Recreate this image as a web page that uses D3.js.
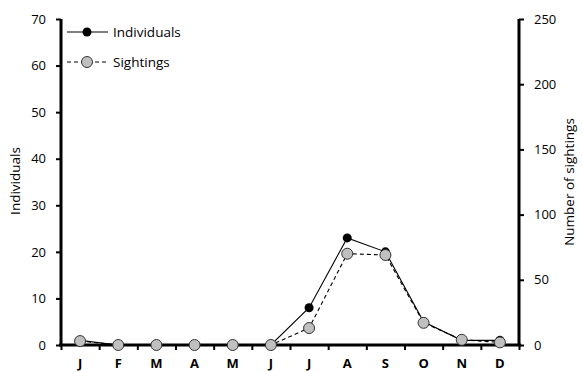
<!DOCTYPE html>
<html><head><meta charset="utf-8">
<script src="https://cdn.jsdelivr.net/npm/d3@7"></script>
<style>body{margin:0;background:#fff}svg{display:block}text{font-family:"Open Sans","DejaVu Sans",sans-serif;fill:#000}</style>
</head><body><svg id="c" width="582" height="372"></svg>
<script>
const months = ["J","F","M","A","M","J","J","A","S","O","N","D"];
const individuals = [1,0,0,0,0,0,8,23,20,5,1,1];
const sightings = [3,0,0,0,0,0,13,70,69,17,4,2];
const leftTicks = [0,10,20,30,40,50,60,70];
const rightTicks = [0,50,100,150,200,250];

const svg = d3.select("#c");
const L = 61, R = 519, T = 19, B = 345;
const idx = d3.range(12);
const x = d3.scaleBand().domain(idx).range([L, R]);
const yL = d3.scaleLinear().domain([0,70]).range([B, T]);
const yR = d3.scaleLinear().domain([0,250]).range([B, T]);
const cx = i => x(i) + x.bandwidth()/2;

// Left axis
const gl = svg.append("g").attr("transform",`translate(${L},0)`)
  .call(d3.axisLeft(yL).tickValues(leftTicks).tickSize(5).tickPadding(10));
gl.select(".domain").attr("stroke","#000").attr("stroke-width",3).attr("d",`M0,${T}V${B}`);
gl.selectAll(".tick line").attr("stroke-width",2);
gl.selectAll(".tick text").attr("font-size",13).attr("fill","#000");

// Right axis
const gr = svg.append("g").attr("transform",`translate(${R},0)`)
  .call(d3.axisRight(yR).tickValues(rightTicks).tickSize(5).tickPadding(10));
gr.select(".domain").attr("stroke","#000").attr("stroke-width",3).attr("d",`M0,${T}V${B}`);
gr.selectAll(".tick line").attr("stroke-width",2);
gr.selectAll(".tick text").attr("font-size",13).attr("fill","#000");

// Bottom axis
const xb = d3.scaleLinear().domain([0,12]).range([L,R]);
const gb = svg.append("g").attr("transform",`translate(0,${B})`)
  .call(d3.axisBottom(xb).tickValues(d3.range(0,13)).tickSize(5).tickFormat(""));
gb.select(".domain").attr("stroke","#000").attr("stroke-width",3).attr("d",`M${L-2},0H${R+2}`);
gb.selectAll(".tick line").attr("stroke-width",2);
svg.append("g").selectAll("text").data(months).join("text")
  .attr("x",(d,i)=>cx(i)).attr("y",368).attr("text-anchor","middle")
  .attr("font-size",13).attr("font-weight","bold").text(d=>d);

// Axis titles
svg.append("text").attr("transform",`translate(20,181) rotate(-90)`)
  .attr("text-anchor","middle").attr("font-size",13.5).text("Individuals");
svg.append("text").attr("transform",`translate(574,182) rotate(-90)`)
  .attr("text-anchor","middle").attr("font-size",13.5).text("Number of sightings");

// Lines
const lineI = d3.line().x((d,i)=>cx(i)).y(d=>yL(d));
const lineS = d3.line().x((d,i)=>cx(i)).y(d=>yR(d));
svg.append("path").attr("d",lineI(individuals)).attr("fill","none").attr("stroke","#000").attr("stroke-width",1.1);
svg.selectAll(".pi").data(individuals).join("circle").attr("class","pi")
  .attr("cx",(d,i)=>cx(i)).attr("cy",d=>yL(d)).attr("r",4.5).attr("fill","#000");
svg.append("path").attr("d",lineS(sightings)).attr("fill","none").attr("stroke","#000").attr("stroke-width",1.1).attr("stroke-dasharray","4,3");
svg.selectAll(".ps").data(sightings).join("circle").attr("class","ps")
  .attr("cx",(d,i)=>cx(i)).attr("cy",d=>yR(d)).attr("r",5.5).attr("fill","#c0c0c0").attr("stroke","#333").attr("stroke-width",1);

// Legend
const lg = svg.append("g");
lg.append("line").attr("x1",67).attr("x2",108).attr("y1",32).attr("y2",32).attr("stroke","#000").attr("stroke-width",1.1);
lg.append("circle").attr("cx",87).attr("cy",32).attr("r",4.5).attr("fill","#000");
lg.append("text").attr("x",113).attr("y",36.5).attr("font-size",13.5).text("Individuals");
lg.append("line").attr("x1",67).attr("x2",108).attr("y1",62).attr("y2",62).attr("stroke","#000").attr("stroke-width",1.1).attr("stroke-dasharray","4,3");
lg.append("circle").attr("cx",87).attr("cy",62).attr("r",5.5).attr("fill","#c0c0c0").attr("stroke","#333");
lg.append("text").attr("x",113).attr("y",66.5).attr("font-size",13.5).text("Sightings");
</script></body></html>
